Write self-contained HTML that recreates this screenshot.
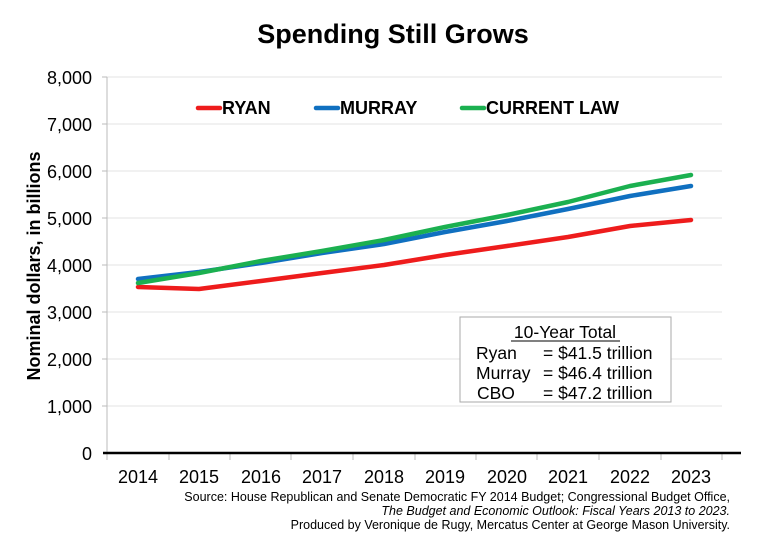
<!DOCTYPE html>
<html><head><style>
body{margin:0;background:#fff;}
svg{display:block;font-family:"Liberation Sans",Arial,sans-serif;}
</style></head><body>
<svg width="768" height="557" viewBox="0 0 768 557">
<rect width="768" height="557" fill="#fff"/>
<text x="393" y="43" font-size="27" font-weight="bold" text-anchor="middle">Spending Still Grows</text>
<g stroke="#e3e3e3" stroke-width="1">
<line x1="107" y1="77" x2="722" y2="77"/><line x1="107" y1="124" x2="722" y2="124"/>
<line x1="107" y1="171" x2="722" y2="171"/><line x1="107" y1="218" x2="722" y2="218"/>
<line x1="107" y1="265" x2="722" y2="265"/><line x1="107" y1="312" x2="722" y2="312"/>
<line x1="107" y1="359" x2="722" y2="359"/><line x1="107" y1="406" x2="722" y2="406"/>
</g>
<line x1="107" y1="77" x2="107" y2="453" stroke="#bbb"/>
<g stroke="#bbb"><line x1="102" y1="77" x2="107" y2="77"/><line x1="102" y1="124" x2="107" y2="124"/><line x1="102" y1="171" x2="107" y2="171"/><line x1="102" y1="218" x2="107" y2="218"/><line x1="102" y1="265" x2="107" y2="265"/><line x1="102" y1="312" x2="107" y2="312"/><line x1="102" y1="359" x2="107" y2="359"/><line x1="102" y1="406" x2="107" y2="406"/>
<line x1="107" y1="453" x2="107" y2="460"/><line x1="169" y1="453" x2="169" y2="460"/><line x1="230" y1="453" x2="230" y2="460"/><line x1="291" y1="453" x2="291" y2="460"/><line x1="353" y1="453" x2="353" y2="460"/><line x1="415" y1="453" x2="415" y2="460"/><line x1="476" y1="453" x2="476" y2="460"/><line x1="537" y1="453" x2="537" y2="460"/><line x1="599" y1="453" x2="599" y2="460"/><line x1="661" y1="453" x2="661" y2="460"/><line x1="722" y1="453" x2="722" y2="460"/></g>
<line x1="103" y1="453" x2="741" y2="453" stroke="#000" stroke-width="2.5"/>
<g font-size="18" text-anchor="end">
<text x="92" y="84">8,000</text><text x="92" y="131">7,000</text><text x="92" y="178">6,000</text><text x="92" y="225">5,000</text><text x="92" y="272">4,000</text><text x="92" y="319">3,000</text><text x="92" y="366">2,000</text><text x="92" y="413">1,000</text><text x="92" y="460">0</text>
</g>
<g font-size="18" text-anchor="middle">
<text x="138" y="483">2014</text><text x="199" y="483">2015</text><text x="261" y="483">2016</text><text x="322" y="483">2017</text><text x="384" y="483">2018</text><text x="445" y="483">2019</text><text x="507" y="483">2020</text><text x="568" y="483">2021</text><text x="630" y="483">2022</text><text x="691" y="483">2023</text>
</g>
<text transform="translate(40,266) rotate(-90)" font-size="18" font-weight="bold" text-anchor="middle">Nominal dollars, in billions</text>
<g fill="none" stroke-width="4.5" stroke-linejoin="round" stroke-linecap="round">
<polyline stroke="#ee1c1c" points="138,287 199,289 261,281 322,273 384,265 445,255 507,246 568,237 630,226 691,220"/>
<polyline stroke="#1070c0" points="138,279 199,272 261,263 322,253 384,244 445,232 507,221 568,209 630,196 691,186"/>
<polyline stroke="#1bb050" points="138,283 199,273 261,261 322,251 384,240 445,227 507,215 568,202 630,186 691,175"/>
</g>
<g font-size="18" font-weight="bold">
<line x1="198" y1="108" x2="220" y2="108" stroke="#ee1c1c" stroke-width="4.5" stroke-linecap="round"/><text x="222" y="114">RYAN</text>
<line x1="316" y1="108" x2="338" y2="108" stroke="#1070c0" stroke-width="4.5" stroke-linecap="round"/><text x="340" y="114">MURRAY</text>
<line x1="462" y1="108" x2="484" y2="108" stroke="#1bb050" stroke-width="4.5" stroke-linecap="round"/><text x="486" y="114">CURRENT LAW</text>
</g>
<rect x="460" y="317" width="211" height="85" fill="#fff" stroke="#aaa"/>
<g font-size="17.5">
<text x="565" y="338" text-anchor="middle">10-Year Total</text>
<line x1="511" y1="341" x2="620" y2="341" stroke="#000" stroke-width="1"/>
<text x="476" y="359">Ryan</text><text x="543" y="359">= $41.5 trillion</text>
<text x="476" y="379">Murray</text><text x="543" y="379">= $46.4 trillion</text>
<text x="477" y="399">CBO</text><text x="543" y="399">= $47.2 trillion</text>
</g>
<g font-size="12.5" text-anchor="end">
<text x="730" y="501">Source: House Republican and Senate Democratic FY 2014 Budget; Congressional Budget Office,</text>
<text x="730" y="515" font-style="italic">The Budget and Economic Outlook: Fiscal Years 2013 to 2023.</text>
<text x="730" y="529">Produced by Veronique de Rugy, Mercatus Center at George Mason University.</text>
</g>
</svg>
</body></html>
